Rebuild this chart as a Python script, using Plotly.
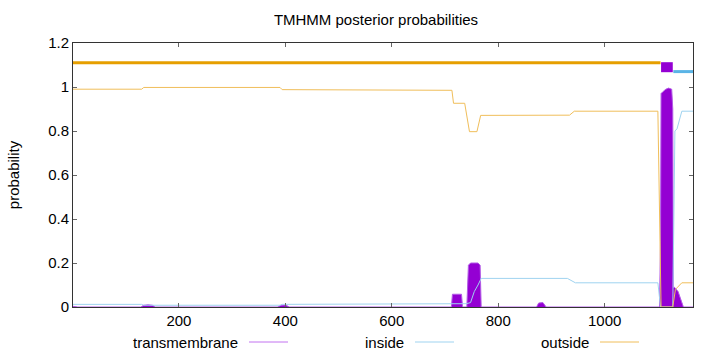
import plotly.graph_objects as go

# ---------------- data ----------------
seq_len = 1166

# posterior probability: outside
out_x = [1, 130, 134, 390, 394, 700, 713, 716, 737, 746, 760, 767, 934, 943, 1100, 1104, 1106, 1128, 1133, 1145, 1166]
out_y = [0.99, 0.99, 0.998, 0.998, 0.988, 0.985, 0.985, 0.926, 0.926, 0.797, 0.797, 0.871, 0.872, 0.89, 0.89, 0.3, 0.0, 0.0, 0.08, 0.11, 0.11]

# posterior probability: inside
in_x = [1, 130, 134, 390, 394, 700, 740, 748, 755, 762, 768, 930, 945, 1100, 1105, 1128, 1132, 1136, 1145, 1166]
in_y = [0.012, 0.012, 0.008, 0.008, 0.012, 0.015, 0.015, 0.02, 0.07, 0.1, 0.13, 0.13, 0.11, 0.11, 0.0, 0.0, 0.8, 0.81, 0.89, 0.89]

# posterior probability: transmembrane
tm_x = [1, 10, 128, 134, 142, 150, 156, 385, 392, 400, 408, 712, 714, 731, 733, 741, 744, 748, 762, 766, 768,
        872, 876, 884, 890, 1103, 1105, 1106, 1110, 1115, 1120, 1126, 1128, 1129, 1131, 1138, 1148, 1166]
tm_y = [0.003, 0.0, 0.0, 0.008, 0.01, 0.008, 0.0, 0.0, 0.008, 0.009, 0.0, 0.0, 0.058, 0.058, 0.0, 0.0, 0.19, 0.2, 0.2, 0.19, 0.0,
        0.0, 0.018, 0.02, 0.0, 0.0, 0.3, 0.97, 0.98, 0.99, 0.995, 0.99, 0.9, 0.09, 0.09, 0.07, 0.0, 0.0]

# predicted topology (segments)
outside_seg = [(1, 1105)]
tm_seg = [(1106, 1128)]
inside_seg = [(1129, 1166)]
level_outside, level_tm, level_inside = 1.11, 1.09, 1.07

y_ticks = [0, 0.2, 0.4, 0.6, 0.8, 1, 1.2]
x_ticks = [200, 400, 600, 800, 1000]
legend_names = ["transmembrane", "inside", "outside"]

# ---------------- styles ----------------
C_TM = "#9400D3"
C_TM_LINE = "#B25BE6"
C_IN = "#5AB4E6"
C_OUT = "#E69F00"
C_IN_THIN = "#9FD3F0"
C_OUT_THIN = "#F0BE5A"
FONT = "Liberation Sans"
FS = 15

W, H = 720, 352
L, R, T, B = 73, 27, 43, 45

fig = go.Figure()

# TM posterior (impulse-like filled area)
fig.add_trace(go.Scatter(x=tm_x, y=tm_y, mode="lines", fill="tozeroy",
                         fillcolor=C_TM, line=dict(color=C_TM_LINE, width=1),
                         showlegend=False, hoverinfo="skip"))
# inside posterior
fig.add_trace(go.Scatter(x=in_x, y=in_y, mode="lines",
                         line=dict(color=C_IN_THIN, width=1), showlegend=False))
# outside posterior
fig.add_trace(go.Scatter(x=out_x, y=out_y, mode="lines",
                         line=dict(color=C_OUT_THIN, width=1), showlegend=False))

# topology bars
for a, b in outside_seg:
    fig.add_trace(go.Scatter(x=[a, b], y=[level_outside] * 2, mode="lines",
                             line=dict(color=C_OUT, width=3), showlegend=False))
for a, b in inside_seg:
    fig.add_trace(go.Scatter(x=[a, b], y=[level_inside] * 2, mode="lines",
                             line=dict(color=C_IN, width=3), showlegend=False))
for a, b in tm_seg:
    fig.add_trace(go.Scatter(x=[a, b], y=[level_tm] * 2, mode="lines",
                             line=dict(color=C_TM, width=10), showlegend=False))


def px_to_paper_x(px):
    return (px - L) / (W - L - R)


def py_to_paper_y(py):
    return (H - B - py) / (H - T - B)


# custom gnuplot-style legend (text then line)
legend_text_right = [240, 406, 591]   # pixel x of text right edge
legend_line_colors = ["#C272F0", C_IN_THIN, C_OUT_THIN]
ly = 342
for name, xr, col in zip(legend_names, legend_text_right, legend_line_colors):
    fig.add_annotation(x=px_to_paper_x(xr), y=py_to_paper_y(ly), xref="paper", yref="paper",
                       xanchor="right", yanchor="middle", text=name, showarrow=False,
                       font=dict(family=FONT, size=FS, color="#000"))
    fig.add_shape(type="line", xref="paper", yref="paper",
                  x0=px_to_paper_x(xr + 9), x1=px_to_paper_x(xr + 48),
                  y0=py_to_paper_y(ly), y1=py_to_paper_y(ly),
                  line=dict(color=col, width=1))

fig.update_layout(
    width=W, height=H,
    margin=dict(l=L, r=R, t=T, b=B),
    paper_bgcolor="white", plot_bgcolor="white",
    font=dict(family=FONT, size=FS, color="#000"),
    title=dict(text="TMHMM posterior probabilities", x=376 / W, xanchor="center",
               xref="container", y=1 - 20 / H, yanchor="middle", yref="container",
               font=dict(family=FONT, size=FS, color="#000")),
    showlegend=False,
)
fig.update_xaxes(range=[1, seq_len], tickvals=x_ticks, ticks="inside", ticklen=4,
                 tickcolor="#666", showgrid=False, zeroline=False, showline=True,
                 linecolor="#333", linewidth=1, mirror="ticks",
                 tickfont=dict(family=FONT, size=FS, color="#000"))
fig.update_yaxes(range=[0, 1.2], tickvals=y_ticks, ticks="inside", ticklen=4,
                 tickcolor="#666", showgrid=False, zeroline=False, showline=True,
                 linecolor="#333", linewidth=1, mirror="ticks",
                 title=dict(text="probability", standoff=24,
                            font=dict(family=FONT, size=FS, color="#000")),
                 tickfont=dict(family=FONT, size=FS, color="#000"))

fig.write_html("out.html")
